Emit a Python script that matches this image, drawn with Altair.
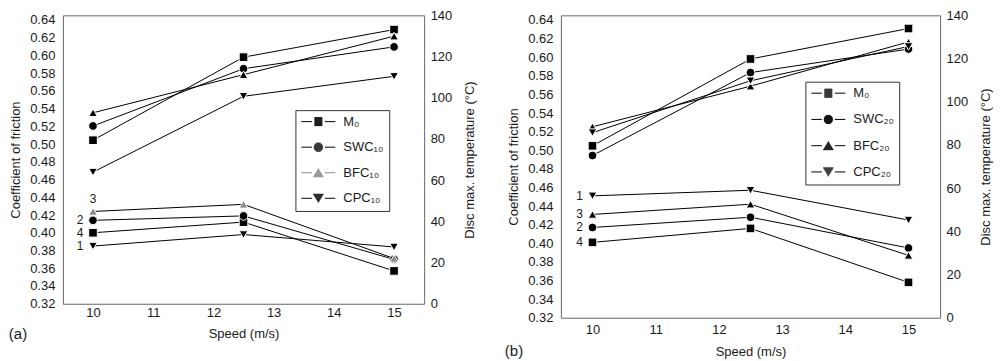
import math
import altair as alt
import pandas as pd

# ---------------- data ----------------
speeds = [10, 12.5, 15]
shapes = ["square", "circle", "triangle-up", "triangle-down"]
number_labels = ["4", "2", "3", "1"]

series_a = ["M₀", "SWC₁₀", "BFC₁₀", "CPC₁₀"]
friction_a = [
    [0.400, 0.412, 0.357],
    [0.414, 0.419, 0.370],
    [0.424, 0.432, 0.371],
    [0.385, 0.398, 0.384],
]
temp_a = [
    [79.4, 119.7, 133.1],
    [86.3, 114.1, 124.7],
    [92.7, 111.2, 129.9],
    [63.9, 100.7, 110.4],
]

series_b = ["M₀", "SWC₂₀", "BFC₂₀", "CPC₂₀"]
friction_b = [
    [0.401, 0.416, 0.358],
    [0.417, 0.428, 0.395],
    [0.431, 0.442, 0.387],
    [0.451, 0.457, 0.425],
]
temp_b = [
    [79.6, 119.8, 133.9],
    [75.1, 113.5, 124.4],
    [88.4, 107.2, 127.7],
    [85.7, 109.7, 125.6],
]

friction_ticks = [0.32, 0.34, 0.36, 0.38, 0.40, 0.42, 0.44, 0.46, 0.48, 0.50,
                  0.52, 0.54, 0.56, 0.58, 0.60, 0.62, 0.64]
temp_ticks = [0, 20, 40, 60, 80, 100, 120, 140]
speed_ticks = [10, 11, 12, 13, 14, 15]

FONT = "Liberation Sans"
TEXT = "#1a1a1a"

# ---------- legend glyphs: line + solid marker drawn with strokes ----------
U = 6.0          # px per path unit (sqrt(symbolSize)/2)
CX = 11.5        # marker centre (px) relative to symbol origin
LINE_L, LINE_R = -5.5, 28.5
GAP = 6.5


def _p(v):
    return f"{v / U:.3f}"


def legend_glyph(kind):
    segs = [f"M{_p(LINE_L)},0H{_p(CX - GAP)}", f"M{_p(CX + GAP)},0H{_p(LINE_R)}"]
    for k in range(-4, 5):
        y = float(k)
        if kind == "square":
            hw = 4.0
        elif kind == "circle":
            hw = math.sqrt(max(4.6 ** 2 - y * y, 0.0))
        elif kind == "triangle-up":
            hw = 4.9 * (y + 4.5) / 8.0
        else:
            hw = 4.9 * (4.5 - y) / 8.0
        if hw < 0.4:
            hw = 0.4
        segs.append(f"M{_p(CX - hw)},{_p(y)}H{_p(CX + hw)}")
    return "".join(segs)


legend_paths = [legend_glyph(s) for s in shapes]


def build_frame(series, fric, temp):
    rows = []
    for i, s in enumerate(series):
        for j, sp in enumerate(speeds):
            rows.append({"speed": sp, "series": s, "lseries": s,
                         "friction": fric[i][j], "temp": temp[i][j],
                         "num": number_labels[i]})
    return pd.DataFrame(rows)


def make_panel(series, fric, temp, tag, width, height, fric_colors,
               above_label, leg_x, leg_y, leg_row_pad, lab_pad, title_pad,
               tag_x, tag_dy):
    df = build_frame(series, fric, temp)
    base = alt.Chart(df)

    x_enc = alt.X("speed:Q",
                  scale=alt.Scale(domain=[9.5, 15.5], nice=False, zero=False),
                  axis=alt.Axis(values=speed_ticks, title="Speed (m/s)",
                                labelPadding=lab_pad, titlePadding=title_pad,
                                format="d"))
    y_fric = alt.Y("friction:Q",
                   scale=alt.Scale(domain=[0.32, 0.645], nice=False, zero=False),
                   axis=alt.Axis(values=friction_ticks, format=".2f",
                                 title="Coefficient of friction",
                                 labelPadding=8, titlePadding=7))
    y_temp = alt.Y("temp:Q",
                   scale=alt.Scale(domain=[0, 140], nice=False),
                   axis=alt.Axis(orient="right", values=temp_ticks,
                                 title="Disc max. temperature (°C)",
                                 titleAngle=270, titleBaseline="top",
                                 labelPadding=6, titlePadding=12))

    shape_scale = alt.Scale(domain=series, range=shapes)

    f_line = base.mark_line(color="black", strokeWidth=1).encode(
        x=x_enc, y=y_fric, detail="series:N")
    f_pts = base.mark_point(filled=True, size=75, opacity=1, stroke="white",
                            strokeWidth=1).encode(
        x=x_enc, y=y_fric,
        shape=alt.Shape("series:N", scale=shape_scale, legend=None),
        color=alt.Color("series:N", scale=alt.Scale(domain=series, range=fric_colors),
                        legend=None))
    left_lab = base.mark_text(font=FONT, fontSize=12, color=TEXT, dx=-13,
                              baseline="middle").encode(
        x=x_enc, y=y_fric, text="num:N").transform_filter(
        f"datum.speed == 10 && datum.num != '{above_label}'")
    top_lab = base.mark_text(font=FONT, fontSize=12, color=TEXT, dy=-12,
                             baseline="middle").encode(
        x=x_enc, y=y_fric, text="num:N").transform_filter(
        f"datum.speed == 10 && datum.num == '{above_label}'")
    fric_layer = alt.layer(f_line, f_pts, left_lab, top_lab)

    t_line = base.mark_line(color="black", strokeWidth=1).encode(
        x=x_enc, y=y_temp, detail="series:N")
    t_pts = base.mark_point(filled=True, size=75, opacity=1, color="black",
                            stroke="white", strokeWidth=1).encode(
        x=x_enc, y=y_temp,
        shape=alt.Shape("series:N", scale=shape_scale, legend=None))
    temp_layer = alt.layer(t_line, t_pts)

    leg = alt.Legend(title=None, orient="none", legendX=leg_x, legendY=leg_y,
                     direction="vertical", strokeColor="#333", fillColor="white",
                     padding=5, rowPadding=leg_row_pad, symbolSize=(2 * U) ** 2,
                     symbolStrokeWidth=1,
                     labelFont=FONT, labelFontSize=13, labelColor=TEXT,
                     labelOffset=30, cornerRadius=0, symbolOpacity=1)
    legend_layer = base.mark_point(filled=False, size=(2 * U) ** 2,
                                   strokeWidth=1).encode(
        shape=alt.Shape("lseries:N", scale=alt.Scale(domain=series, range=legend_paths),
                        legend=leg),
        color=alt.Color("lseries:N", scale=alt.Scale(domain=series, range=fric_colors),
                        legend=leg),
    ).transform_filter("datum.speed > 100")

    tag_layer = alt.Chart(pd.DataFrame({"t": [tag]})).mark_text(
        font=FONT, fontSize=15, color=TEXT, align="center", baseline="middle").encode(
        text="t:N", x=alt.value(tag_x), y=alt.value(height + tag_dy))

    return alt.layer(fric_layer, temp_layer, legend_layer, tag_layer).resolve_scale(
        y="independent", shape="independent", color="independent"
    ).properties(width=width, height=height)


panel_a = make_panel(series_a, friction_a, temp_a, "(a)", 362, 289,
                     ["black", "black", "#888888", "black"], "3",
                     233, 95, 11.6, 3, 8, -45, 30)
panel_b = make_panel(series_b, friction_b, temp_b, "(b)", 380, 303,
                     ["black", "black", "black", "black"], "none",
                     245, 66.5, 12.3, 6, 9, -47, 33)

chart = alt.hconcat(panel_a, panel_b, spacing=26).properties(
    padding={"left": 0, "top": 0, "right": 0, "bottom": 0},
    background="white",
).configure_view(stroke="#666666", strokeWidth=1).configure_axis(
    domain=False, ticks=False, grid=False,
    labelFont=FONT, labelFontSize=13, labelColor=TEXT,
    titleFont=FONT, titleFontSize=13, titleFontWeight="normal", titleColor=TEXT,
)

chart.save("out.html", embed_options={"renderer": "svg", "actions": False})
